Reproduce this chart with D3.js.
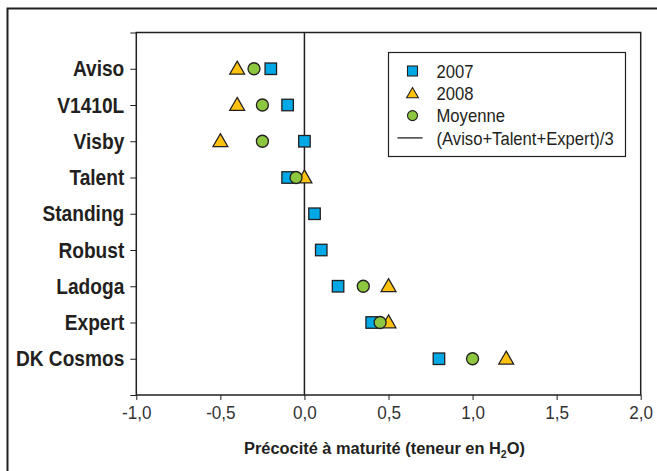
<!DOCTYPE html>
<html>
<head>
<meta charset="utf-8">
<title>Précocité à maturité</title>
<style type="text/css">
body {margin: 0; background: #fff;}
svg {display: block; font-family: "Liberation Sans", Arial, sans-serif;}
.axis .domain {display: none;}
</style>
</head>
<body>
<svg width="657" height="471"></svg>
<script src="https://d3js.org/d3.v7.min.js"></script>
<script>
// varieties, top to bottom
var varieties = ["Aviso", "V1410L", "Visby", "Talent", "Standing", "Robust", "Ladoga", "Expert", "DK Cosmos"];
// précocité values per year (null = no value)
var y2007 = [-0.20, -0.10, 0.00, -0.10, 0.06, 0.10, 0.20, 0.40, 0.80];
var y2008 = [-0.40, -0.40, -0.50, 0.00, null, null, 0.50, 0.50, 1.20];
var moyenne = [-0.30, -0.25, -0.25, -0.05, null, null, 0.35, 0.45, 1.00];
// (Aviso+Talent+Expert)/3 reference
var refValue = 0;
var xTicks = [-1, -0.5, 0, 0.5, 1, 1.5, 2];

var svg = d3.select("svg"),
    margin = {top: 32.5, right: 16.3, bottom: 76, left: 136.3},
    width = +svg.attr("width") - margin.left - margin.right,
    height = +svg.attr("height") - margin.top - margin.bottom;

var ink = "#231f20";
var colors = {sq: "#00a8e6", tri: "#ffc20e", circ: "#8dc63f"};

// no condensed face installed, so squeeze text horizontally round its anchor
function condense(sel, s) {
    sel.each(function() {
        var t = d3.select(this), ax = +t.attr("x") || 0;
        t.attr("transform", "translate(" + ax + ",0) scale(" + s + ",1) translate(" + (-ax) + ",0)");
    });
}

// outer frame
svg.append("rect")
    .attr("x", 7.5).attr("y", 8.5)
    .attr("width", 660).attr("height", 480)
    .attr("fill", "none").attr("stroke", ink).attr("stroke-width", 2);

var g = svg.append("g").attr("transform", "translate(" + margin.left + "," + margin.top + ")");

var x = d3.scaleLinear().domain([-1, 2]).range([0, width]);
var y = d3.scaleLinear().domain([0, varieties.length + 1]).range([0, height]);

// plot frame
g.append("rect")
    .attr("width", width).attr("height", height)
    .attr("fill", "none").attr("stroke", ink).attr("stroke-width", 1.5);

// x axis
var xAxis = g.append("g")
    .attr("class", "axis")
    .attr("transform", "translate(0," + height + ")")
    .call(d3.axisBottom(x).tickValues(xTicks).tickSize(5).tickPadding(6)
        .tickFormat(function(d) { return d3.format(".1f")(d).replace(".", ",").replace("−", "-"); }));
xAxis.selectAll("line").attr("stroke", ink);
xAxis.selectAll("text").attr("font-size", 19).attr("fill", "#333").attr("font-family", null)
    .call(condense, 0.9);

// y axis
var yAxis = g.append("g")
    .attr("class", "axis")
    .call(d3.axisLeft(y).tickValues(d3.range(0, varieties.length + 2)).tickSize(6).tickPadding(6)
        .tickFormat(function(d) { return varieties[d - 1] || ""; }));
yAxis.selectAll("line").attr("stroke", ink);
yAxis.selectAll("text").attr("font-size", 22).attr("font-weight", "bold").attr("fill", ink).attr("font-family", null)
    .call(condense, 0.87);

// x axis title
var title = svg.append("text")
    .attr("x", 384.5)
    .attr("y", 454)
    .attr("text-anchor", "middle")
    .attr("font-size", 17)
    .attr("font-weight", "bold")
    .attr("fill", ink)
    .text("Précocité à maturité (teneur en H");
title.append("tspan").attr("font-size", 11).attr("dy", 4).text("2");
title.append("tspan").attr("dy", -4).text("O)");
title.call(condense, 0.965);

// reference line
g.append("line")
    .attr("x1", x(refValue)).attr("x2", x(refValue))
    .attr("y1", 0).attr("y2", height)
    .attr("stroke", ink).attr("stroke-width", 1.5);

function rows(vals) {
    return vals.map(function(v, i) { return {v: v, i: i}; }).filter(function(d) { return d.v !== null; });
}

var sq = 11.5;
g.append("g").selectAll("rect")
    .data(rows(y2007)).enter().append("rect")
    .attr("x", function(d) { return x(d.v) - sq / 2; })
    .attr("y", function(d) { return y(d.i + 1) - sq / 2; })
    .attr("width", sq).attr("height", sq)
    .attr("fill", colors.sq).attr("stroke", ink).attr("stroke-width", 1.3);

var tri = d3.symbol().type(d3.symbolTriangle).size(95);
g.append("g").selectAll("path")
    .data(rows(y2008)).enter().append("path")
    .attr("d", tri)
    .attr("transform", function(d) { return "translate(" + x(d.v) + "," + (y(d.i + 1) + 1) + ")"; })
    .attr("fill", colors.tri).attr("stroke", ink).attr("stroke-width", 1.3);

g.append("g").selectAll("circle")
    .data(rows(moyenne)).enter().append("circle")
    .attr("cx", function(d) { return x(d.v); })
    .attr("cy", function(d) { return y(d.i + 1); })
    .attr("r", 6)
    .attr("fill", colors.circ).attr("stroke", ink).attr("stroke-width", 1.3);

// legend
var legend = svg.append("g").attr("transform", "translate(388.5,52.5)");
legend.append("rect")
    .attr("width", 237).attr("height", 104)
    .attr("fill", "#fff").attr("stroke", ink).attr("stroke-width", 1.2);
var items = [
    {label: "2007", type: "sq"},
    {label: "2008", type: "tri"},
    {label: "Moyenne", type: "circ"},
    {label: "(Aviso+Talent+Expert)/3", type: "line"}
];
var li = legend.selectAll("g.item").data(items).enter().append("g")
    .attr("class", "item")
    .attr("transform", function(d, i) { return "translate(24," + (18.5 + i * 22.3) + ")"; });
li.each(function(d) {
    var s = d3.select(this);
    if (d.type === "sq") {
        s.append("rect").attr("x", -5).attr("y", -5).attr("width", 10).attr("height", 10)
            .attr("fill", colors.sq).attr("stroke", ink).attr("stroke-width", 1.1);
    } else if (d.type === "tri") {
        s.append("path").attr("d", d3.symbol().type(d3.symbolTriangle).size(60))
            .attr("transform", "translate(0,1)")
            .attr("fill", colors.tri).attr("stroke", ink).attr("stroke-width", 1.1);
    } else if (d.type === "circ") {
        s.append("circle").attr("r", 5)
            .attr("fill", colors.circ).attr("stroke", ink).attr("stroke-width", 1.1);
    } else {
        s.append("line").attr("x1", -15).attr("x2", 10)
            .attr("stroke", ink).attr("stroke-width", 1.3);
    }
});
li.append("text")
    .attr("x", 24).attr("dy", "0.36em")
    .attr("font-size", 18.5).attr("fill", ink)
    .text(function(d) { return d.label; })
    .call(condense, 0.9);
</script>
</body>
</html>
